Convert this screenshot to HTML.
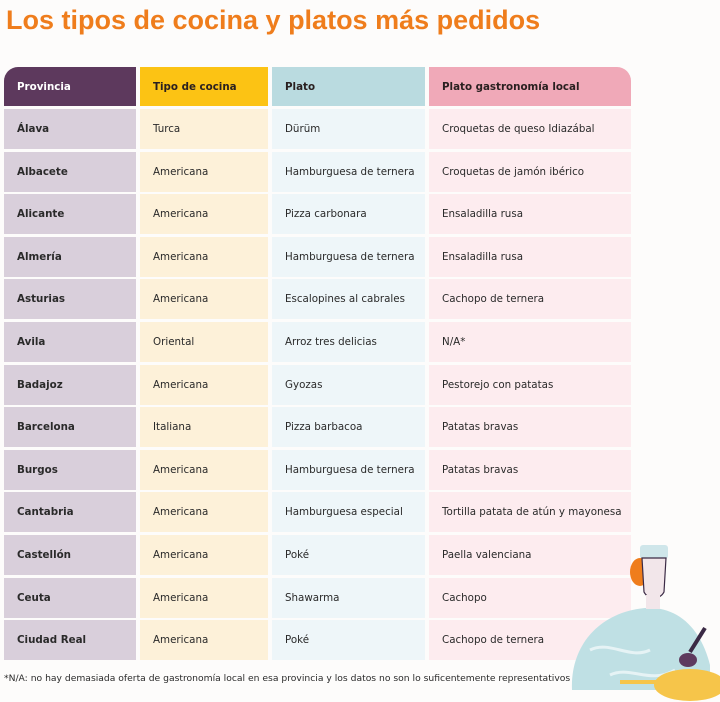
<!DOCTYPE html>
<html><head><meta charset="utf-8">
<style>
body{margin:0;width:720px;height:702px;background:#fdfcfb;position:relative;overflow:hidden;font-family:"DejaVu Sans","Liberation Sans",sans-serif;}
.t{position:absolute;left:6px;top:5px;font-family:"Liberation Sans",sans-serif;font-size:27px;font-weight:bold;color:#ef7d1c;white-space:nowrap}
.c{position:absolute;box-sizing:border-box;padding-left:13px;display:flex;align-items:center;font-size:10.3px;letter-spacing:0px;color:#2a2a2a;white-space:nowrap}
.h{font-weight:bold;font-size:10.3px;letter-spacing:0px;color:#2a2020}
.fn{position:absolute;left:4px;top:673px;font-size:9.2px;color:#2a2a2a;white-space:nowrap}
</style></head><body>
<div class="t">Los tipos de cocina y platos más pedidos</div>
<div id="tbl"></div>
<div class="fn">*N/A: no hay demasiada oferta de gastronomía local en esa provincia y los datos no son lo suficentemente representativos</div>
<svg style="position:absolute;left:560px;top:540px" width="160" height="162">
<path d="M12 150 C10 105 40 72 85 68 C115 66 140 85 150 125 L150 150 Z" fill="#bfe0e4"/>
<path d="M30 110 C50 100 70 120 90 110 M50 135 C70 125 90 145 115 130" stroke="#e6f3f5" stroke-width="3" fill="none"/>
<rect x="80" y="5" width="28" height="14" rx="3" fill="#cfe6ea"/>
<ellipse cx="80" cy="32" rx="10" ry="14" fill="#ef7d1c"/>
<path d="M82 18 L106 18 L104 52 C100 60 88 60 84 52 Z" fill="#f2e6ea" stroke="#3b2a45" stroke-width="1.2"/>
<rect x="86" y="55" width="14" height="14" fill="#f2e6ea"/>
<ellipse cx="130" cy="145" rx="36" ry="16" fill="#f6c54a"/>
<rect x="60" y="140" width="40" height="4" fill="#f6c54a"/>
<ellipse cx="128" cy="120" rx="9" ry="7" fill="#5e3a5e"/>
<path d="M130 112 L145 88" stroke="#3b2a45" stroke-width="4"/>
</svg>
<script>
const provincias=["Álava","Albacete","Alicante","Almería","Asturias","Avila","Badajoz","Barcelona","Burgos","Cantabria","Castellón","Ceuta","Ciudad Real"];
const tipos=["Turca","Americana","Americana","Americana","Americana","Oriental","Americana","Italiana","Americana","Americana","Americana","Americana","Americana"];
const platos=["Dürüm","Hamburguesa de ternera","Pizza carbonara","Hamburguesa de ternera","Escalopines al cabrales","Arroz tres delicias","Gyozas","Pizza barbacoa","Hamburguesa de ternera","Hamburguesa especial","Poké","Shawarma","Poké"];
const locales=["Croquetas de queso Idiazábal","Croquetas de jamón ibérico","Ensaladilla rusa","Ensaladilla rusa","Cachopo de ternera","N/A*","Pestorejo con patatas","Patatas bravas","Patatas bravas","Tortilla patata de atún y mayonesa","Paella valenciana","Cachopo","Cachopo de ternera"];
const headers=["Provincia","Tipo de cocina","Plato","Plato gastronomía local"];
const cols=[[4,132],[140,128],[272,153],[429,202]];
const hbg=["#5d395d","#fcc314","#badbe0","#f0a9b8"];
const cbg=["#d9cfdb","#fdf1d9","#eef6f9","#fdecef"];
const tbl=document.getElementById('tbl');
headers.forEach((h,j)=>{
 const d=document.createElement('div');d.className='c h';
 
 
 d.style.cssText=`left:${cols[j][0]}px;top:67px;width:${cols[j][1]}px;height:39px;background:${hbg[j]};${j==0?'color:#fff;border-top-left-radius:14px;':''}${j==3?'border-top-right-radius:14px;':''}`;
 d.textContent=h;tbl.appendChild(d);
});
const data=[provincias,tipos,platos,locales];
provincias.forEach((p,i)=>{
 const top=109+i*42.6;
 data.forEach((arr,j)=>{
  const d=document.createElement('div');d.className='c';
  
  
  d.style.cssText=`left:${cols[j][0]}px;top:${top}px;width:${cols[j][1]}px;height:40px;background:${cbg[j]};${j==0?'font-weight:bold;':''}`;
  d.textContent=arr[i];tbl.appendChild(d);
 });
});
</script>
</body></html>
